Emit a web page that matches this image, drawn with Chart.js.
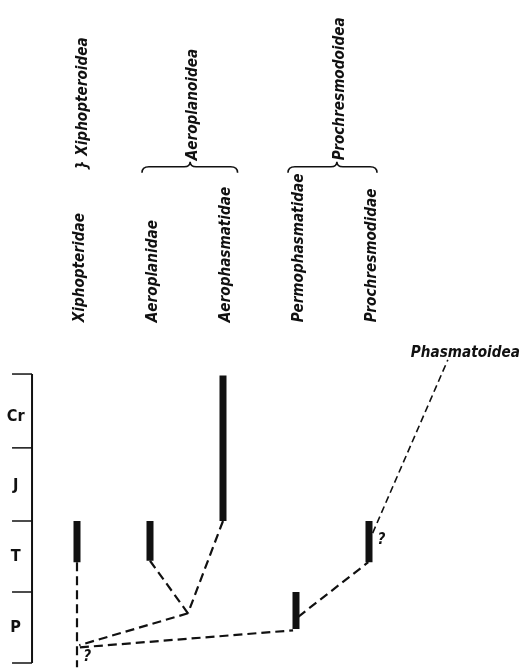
<!DOCTYPE html>
<html>
<head>
<meta charset="utf-8">
<script src="https://cdn.jsdelivr.net/npm/chart.js@4/dist/chart.umd.min.js"></script>
<style>
  html, body { margin: 0; padding: 0; background: #fff; }
  canvas { display: block; }
</style>
</head>
<body>
<canvas id="tree" width="523" height="669"></canvas>
<script>
// Families: column, range top / bottom (in period units, P base = 0)
const families = ["Xiphopteridae", "Aeroplanidae", "Aerophasmatidae", "Permophasmatidae", "Prochresmodidae"]
const familyCols = [0, 1, 2, 3, 4]
const rangeTop = [2, 2, 4.05, 1, 2]
const rangeBottom = [1.42, 1.44, 2, 0.48, 1.42]
const familyLabelBase = 4.8

// Periods and their boundaries
const periods = ["P", "T", "J", "Cr"]
const periodBounds = [0, 1, 2, 3.03, 4.07]
const periodLabelY = [0.49, 1.49, 2.49, 3.47]
const periodAxisX = -0.616
const periodTickX = -0.89
const periodLabelX = -0.84

// Superfamilies
const superfamilies = ["} Xiphopteroidea", "Aeroplanoidea", "Prochresmodoidea"]
const superCols = [0.04, 1.55, 3.56]
const superLabelBase = [6.94, 7.08, 7.08]
const braceStart = [null, 0.89, 2.89]
const braceEnd = [null, 2.2, 4.11]
const braceLevel = 6.99

// Dashed links [x1, y1, x2, y2]
const links = [
  [0, 1.42, 0, -0.06],
  [1, 1.44, 1.52, 0.7],
  [2, 2, 1.52, 0.7],
  [1.52, 0.7, 0.03, 0.25],
  [0.04, 0.22, 2.96, 0.46],
  [3.03, 0.65, 3.99, 1.42],
]
const phasmLink = [4.05, 1.83, 5.08, 4.27]
const phasmLabel = { text: "Phasmatoidea", x: 5.32, y: 4.37 }

// Question marks
const queryX = [0.14, 4.17]
const queryY = [0.09, 1.73]

const INK = "#111"
const FONT = "'DejaVu Sans Condensed', 'DejaVu Sans', sans-serif"
const STRETCH = 1.01

/**
 * Builds a two-point line dataset
 */
const segment = (x1, y1, x2, y2, style = {}) => ({
  data: [{ x: x1, y: y1 }, { x: x2, y: y2 }],
  showLine: true,
  pointRadius: 0,
  borderColor: INK,
  borderWidth: 2,
  ...style,
})

const datasets = []

// Period axis
datasets.push(segment(periodAxisX, periodBounds[0], periodAxisX, periodBounds[periodBounds.length - 1], { borderWidth: 2 }))
periodBounds.forEach((b) => {
  datasets.push(segment(periodTickX, b, periodAxisX, b, { borderWidth: 1.5 }))
})

// Family ranges
familyCols.forEach((c, i) => {
  datasets.push(segment(c, rangeTop[i], c, rangeBottom[i], { borderWidth: 7, borderCapStyle: "butt" }))
})

// Links
links.forEach(([x1, y1, x2, y2]) => {
  datasets.push(segment(x1, y1, x2, y2, { borderWidth: 2.2, borderDash: [9, 5] }))
})
datasets.push(segment(...phasmLink, { borderWidth: 1.6, borderDash: [7, 4] }))

const labelsPlugin = {
  id: "treeLabels",
  afterDatasetsDraw(chart) {
    const { ctx, scales } = chart
    const x = scales.x
    const y = scales.y
    ctx.save()
    ctx.fillStyle = INK
    ctx.strokeStyle = INK

    // Stretched text along its own direction
    const stretched = (text, px, py, angle, align) => {
      ctx.save()
      ctx.translate(px, py)
      ctx.rotate(angle)
      ctx.scale(STRETCH, 1)
      ctx.textAlign = align
      ctx.textBaseline = "middle"
      ctx.fillText(text, 0, 0)
      ctx.restore()
    }

    // Period labels
    ctx.font = "bold 16px " + FONT
    periods.forEach((p, i) => {
      stretched(p, x.getPixelForValue(periodLabelX), y.getPixelForValue(periodLabelY[i]), 0, "center")
    })

    // Rotated family and superfamily labels
    ctx.font = "italic bold 15px " + FONT
    families.forEach((f, i) => {
      stretched(f, x.getPixelForValue(familyCols[i]) + 3, y.getPixelForValue(familyLabelBase), -Math.PI / 2, "left")
    })
    superfamilies.forEach((s, i) => {
      stretched(s, x.getPixelForValue(superCols[i]) + 3, y.getPixelForValue(superLabelBase[i]), -Math.PI / 2, "left")
    })

    // Braces
    ctx.lineWidth = 1.6
    braceStart.forEach((s, i) => {
      if (s === null) return
      const x0 = x.getPixelForValue(s)
      const x1 = x.getPixelForValue(braceEnd[i])
      const xm = x.getPixelForValue(superCols[i])
      const yb = y.getPixelForValue(braceLevel)
      ctx.beginPath()
      ctx.moveTo(x0, yb + 6)
      ctx.quadraticCurveTo(x0, yb, x0 + 7, yb)
      ctx.lineTo(xm - 6, yb)
      ctx.quadraticCurveTo(xm, yb, xm, yb - 5)
      ctx.quadraticCurveTo(xm, yb, xm + 6, yb)
      ctx.lineTo(x1 - 7, yb)
      ctx.quadraticCurveTo(x1, yb, x1, yb + 6)
      ctx.stroke()
    })

    // Phasmatoidea
    stretched(phasmLabel.text, x.getPixelForValue(phasmLabel.x), y.getPixelForValue(phasmLabel.y), 0, "center")

    // Question marks
    queryX.forEach((qx, i) => {
      stretched("?", x.getPixelForValue(qx), y.getPixelForValue(queryY[i]), 0, "center")
    })
    ctx.restore()
  },
}

new Chart(document.getElementById("tree"), {
  type: "scatter",
  data: { datasets },
  options: {
    responsive: false,
    animation: false,
    devicePixelRatio: 1,
    layout: { padding: 0 },
    plugins: {
      legend: { display: false },
      tooltip: { enabled: false },
    },
    scales: {
      x: { type: "linear", min: -1.0548, max: 6.1096, display: false },
      y: { type: "linear", min: -0.0845, max: 9.338, display: false },
    },
  },
  plugins: [labelsPlugin],
})
</script>
</body>
</html>
